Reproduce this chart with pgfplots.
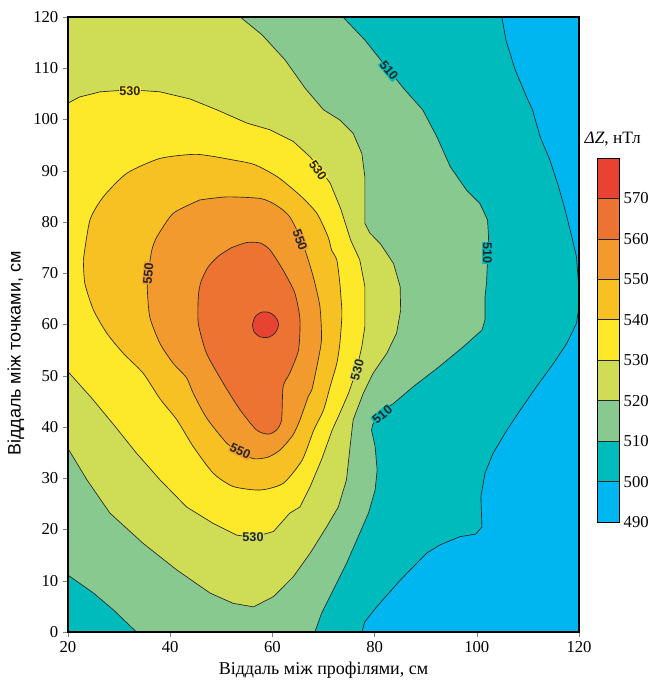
\documentclass[border=0pt]{standalone}
\usepackage{fontspec}
\setmainfont{Liberation Serif}
\newfontfamily\arialfont{Liberation Sans}
\usepackage{pgfplots}
\pgfplotsset{compat=1.18}

\definecolor{c490}{RGB}{0,182,240}
\definecolor{c500}{RGB}{0,187,187}
\definecolor{c510}{RGB}{135,201,143}
\definecolor{c520}{RGB}{206,221,85}
\definecolor{c530}{RGB}{253,232,42}
\definecolor{c540}{RGB}{247,193,36}
\definecolor{c550}{RGB}{242,154,46}
\definecolor{c560}{RGB}{236,115,50}
\definecolor{c570}{RGB}{232,67,50}

\begin{document}
\begin{tikzpicture}
\tikzset{
  iso/.style={draw=black!85, line width=0.5pt, mark=none},
  lbl/.style={font=\arialfont\bfseries\fontsize{9.5}{10}\selectfont, inner sep=0.5pt, text=black!85}
}
\begin{axis}[
  name=map, scale only axis, width=383.25pt, height=461.25pt,
  xmin=20, xmax=120, ymin=0, ymax=120,
  xtick={20,40,...,120}, ytick={0,10,...,120},
  tick pos=left, tick align=outside, major tick length=3.75pt,
  axis on top, axis line style={line width=0.8pt},
  /pgf/number format/assume math mode=true,
  tick label style={font=\rmfamily\fontsize{12.5}{14}\selectfont},
  xlabel={Віддаль між профілями, см},
  ylabel={\arialfont Віддаль між точками, см},
  ylabel style={at={(ticklabel cs:0.4525)}},
  label style={font=\fontsize{13.5}{15}\selectfont},
]
% 490-500
\addplot[fill=c490, draw=none, mark=none] coordinates {(20,0)(120,0)(120,120)(20,120)} -- cycle;
% 500-510
\addplot[iso, fill=c500] coordinates {
(20,120)(104.9,120)(105.7,115.5)(107.5,109.7)(110.0,103.8)(110.9,101.9)(112.4,96.6)(114.3,92.1)
(116.0,86.9)(117.3,82.3)(118.6,77.1)(119.5,73.2)(119.9,68.0)(119.9,62.8)(119.5,60.2)(117.6,56.3)
(115.0,52.4)(111.7,47.9)(108.5,43.3)(105.9,39.4)(103.2,34.9)(101.6,31.0)(100.8,26.4)(101.0,20.5)
(99.8,19.1)(96.7,18.6)(92.8,17.0)(90.2,15.4)(85.0,10.1)(80.4,4.9)(78.1,2.0)(77.5,0)(20,0)} -- cycle;
% 510-520
\addplot[iso, fill=c510] coordinates {
(20,120)(73.8,120)(78.1,115.5)(82.0,110.6)(85.9,105.8)(89.4,101.9)(92.2,96.6)(94.8,90.8)
(98.0,86.2)(100.6,83.6)(102.1,80.4)(102.3,77.1)(102.1,72.6)(101.9,68.0)(101.6,65.4)(101.6,60.9)
(101.0,58.9)(97.4,55.7)(92.8,51.9)(87.6,47.9)(83.7,44.6)(81.1,42.9)(79.6,40.4)(79.4,39.4)
(80.1,36.2)(80.5,31.6)(80.1,27.7)(78.8,23.2)(77.1,19.3)(74.5,13.4)(71.9,8.2)(69.6,3.6)(68.3,0)
(33.4,0)(28.9,4.3)(25.0,7.6)(20,11.1)} -- cycle;
% 520-530
\addplot[iso, fill=c520] coordinates {
(20,120)(53.7,120)(58.0,116.5)(62.5,111.6)(66.4,106.1)(70.0,101.9)(73.2,99.9)(75.8,97.3)
(77.5,93.4)(78.1,88.8)(78.1,84.3)(78.1,79.7)(79.1,77.8)(81.1,75.8)(83.7,71.9)(85.0,67.4)
(85.1,62.8)(84.3,58.3)(82.4,54.4)(79.7,50.5)(77.8,46.6)(75.8,41.4)(75.2,36.2)(74.5,29.7)
(72.9,24.4)(70.6,20.5)(67.4,15.4)(64.1,10.8)(60.2,6.9)(56.3,4.9)(52.3,5.6)(47.8,7.6)
(41.3,12.1)(34.7,17.3)(28.2,23.2)(23.7,29.7)(20,35.8)} -- cycle;
% 530-540
\addplot[iso, fill=c530] coordinates {
(20,103.2)(22.3,104.4)(26.3,105.4)(32.1,105.8)(38.0,105.4)(43.9,104.0)(49.1,101.9)(55.0,99.3)
(59.5,98.0)(64.1,95.7)(67.4,92.7)(71.3,87.6)(73.4,82.5)(75.3,76.5)(77.1,72.6)(78.1,67.4)
(78.1,62.8)(78.1,59.6)(77.5,55.7)(76.5,51.2)(74.9,46.6)(73.2,42.7)(71.7,39.4)(69.6,33.6)
(67.4,28.4)(65.4,24.4)(63.4,23.2)(60.2,19.6)(56.2,18.5)(53.0,18.9)(48.4,21.2)(43.2,24.4)
(38.0,29.7)(33.4,34.9)(28.9,40.5)(24.5,45.8)(20,50.8)} -- cycle;
% 540-550
\addplot[iso, fill=c540, smooth, tension=0.4] coordinates {
(23.0,72.6)(24.3,80.4)(26.9,84.9)(31.5,89.5)(38.0,92.4)(45.2,93.2)(52.3,92.1)(56.5,91.2)
(61.0,88.8)(65.4,85.2)(68.7,81.7)(70.9,77.1)(71.6,74.5)(72.6,72.6)(73.2,68.0)(73.6,62.8)
(73.6,61.5)(73.2,56.3)(72.6,52.4)(71.3,47.9)(70.0,43.3)(68.1,39.4)(65.8,33.5)(62.1,29.0)
(57.6,27.7)(52.3,28.4)(48.4,31.0)(44.5,36.2)(41.3,41.4)(38.0,45.5)(34.7,50.5)(30.8,54.4)
(27.6,58.3)(25.0,62.8)(23.3,68.0)(23.0,72.6)} -- cycle;
% 550-560
\addplot[iso, fill=c550, smooth, tension=0.4] coordinates {
(45.8,84.3)(51.1,84.9)(57.6,84.6)(60.2,83.6)(62.1,82.3)(63.4,81.0)(64.8,78.4)(65.4,76.5)
(66.4,74.5)(68.0,69.3)(69.3,63.5)(69.6,57.0)(68.7,51.8)(67.7,47.2)(67.0,45.9)(65.4,41.4)
(64.0,38.4)(61.5,35.5)(59.1,34.1)(56.3,33.8)(53.7,35.1)(51.1,36.8)(47.1,41.8)(44.5,46.6)
(43.2,49.6)(40.6,52.4)(38.0,56.3)(36.0,61.5)(35.5,67.4)(35.7,70.0)(36.4,74.5)(37.4,77.1)
(40.6,81.7)(45.8,84.3)} -- cycle;
% 560-570
\addplot[iso, fill=c560, smooth, tension=0.4] coordinates {
(52.0,75.0)(55.0,76.0)(57.6,75.9)(59.5,74.6)(62.1,70.6)(64.4,66.1)(65.4,60.9)(65.1,55.0)
(63.4,50.5)(62.1,47.9)(61.8,41.4)(60.8,39.4)(59.2,38.6)(56.9,39.4)(53.7,43.3)(50.4,48.5)
(47.1,54.4)(45.5,60.2)(45.5,65.4)(46.0,68.3)(47.4,71.2)(49.5,73.4)(52.0,75.0)} -- cycle;
% 570-580
\addplot[iso, fill=c570, smooth, tension=0.5] coordinates {
(56.1,59.9)(56.6,61.5)(57.9,62.4)(59.5,62.3)(60.8,61.2)(61.2,59.9)(60.5,58.3)(59.2,57.5)
(57.6,57.6)(56.4,58.6)(56.1,59.9)} -- cycle;
% contour labels
\node[lbl, fill=c530] at (axis cs:32.1,105.6) {530};
\node[lbl, fill=c530, rotate=-55] at (axis cs:68.9,90.1) {530};
\node[lbl, fill=c500, rotate=-50] at (axis cs:82.8,109.6) {510};
\node[lbl, fill=c550, rotate=-70] at (axis cs:65.4,76.5) {550};
\node[lbl, fill=c550, rotate=85] at (axis cs:35.7,70.0) {550};
\node[lbl, fill=c500, rotate=-90] at (axis cs:102.1,74.0) {510};
\node[lbl, fill=c520, rotate=75] at (axis cs:76.6,51.1) {530};
\node[lbl, fill=c500, rotate=40] at (axis cs:81.5,42.4) {510};
\node[lbl, fill=c550, rotate=-25] at (axis cs:53.7,35.3) {550};
\node[lbl, fill=c520] at (axis cs:56.2,18.5) {530};
\end{axis}

% colour scale
\begin{axis}[
  at={(396.75pt,82.5pt)}, anchor=south west,
  scale only axis, width=16.5pt, height=273pt,
  xmin=0, xmax=1, ymin=490, ymax=580,
  xtick=\empty, ytick={490,500,...,570},
  yticklabel pos=right, major tick length=0pt,
  axis line style={line width=0.6pt}, axis on top,
  /pgf/number format/assume math mode=true,
  tick label style={font=\rmfamily\fontsize{12.5}{14}\selectfont},
  title={\textit{ΔZ}, нТл},
  title style={at={(0,1)}, anchor=south west, xshift=-10.5pt, yshift=2pt, inner sep=1pt, font=\fontsize{13}{14}\selectfont},
]
\addplot[iso, fill=c490] coordinates {(0,490)(1,490)(1,500)(0,500)} -- cycle;
\addplot[iso, fill=c500] coordinates {(0,500)(1,500)(1,510)(0,510)} -- cycle;
\addplot[iso, fill=c510] coordinates {(0,510)(1,510)(1,520)(0,520)} -- cycle;
\addplot[iso, fill=c520] coordinates {(0,520)(1,520)(1,530)(0,530)} -- cycle;
\addplot[iso, fill=c530] coordinates {(0,530)(1,530)(1,540)(0,540)} -- cycle;
\addplot[iso, fill=c540] coordinates {(0,540)(1,540)(1,550)(0,550)} -- cycle;
\addplot[iso, fill=c550] coordinates {(0,550)(1,550)(1,560)(0,560)} -- cycle;
\addplot[iso, fill=c560] coordinates {(0,560)(1,560)(1,570)(0,570)} -- cycle;
\addplot[iso, fill=c570] coordinates {(0,570)(1,570)(1,580)(0,580)} -- cycle;
\end{axis}
\pgfresetboundingbox
\useasboundingbox (-51pt,-42.75pt) rectangle (441.75pt,474pt);
\end{tikzpicture}
\end{document}
